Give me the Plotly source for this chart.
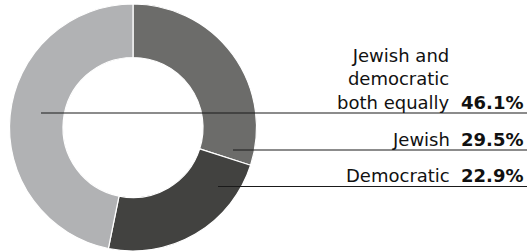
import plotly.graph_objects as go

# Data
labels = ["Jewish", "Democratic", "Jewish and democratic both equally"]
values = [29.5, 22.9, 46.1]
display_labels = ["Jewish", "Democratic", "Jewish and<br>democratic<br>both equally"]
colors = ["#6c6c6a", "#424240", "#b1b2b4"]

W, H = 527, 251
cx, cy, R = 133, 127.5, 123.5

fig = go.Figure(go.Pie(
    labels=labels, values=values, sort=False, direction="clockwise", rotation=0,
    hole=0.567, textinfo="none", hoverinfo="label+value",
    marker=dict(colors=colors, line=dict(color="white", width=1.2)),
    domain=dict(x=[(cx - R) / W, (cx + R) / W],
                y=[max(0.0, 1 - (cy + R) / H), min(1.0, 1 - (cy - R) / H)]),
    showlegend=False,
))

# leader lines (pixel positions) and label text
line_y = [150, 186.5, 113]
line_x0 = [233, 218, 41]
font = dict(family="DejaVu Sans", size=18, color="#111")
for lab, val, ly, lx in zip(display_labels, values, line_y, line_x0):
    fig.add_shape(type="line", xref="paper", yref="paper",
                  x0=lx / W, x1=1.0, y0=1 - ly / H, y1=1 - ly / H,
                  line=dict(color="#1a1a1a", width=1.2))
    fig.add_annotation(xref="paper", yref="paper", x=451 / W, y=1 - (ly + 0.5) / H,
                       xanchor="right", yanchor="bottom", align="right", showarrow=False,
                       borderpad=0, text=lab, font=font)
    fig.add_annotation(xref="paper", yref="paper", x=524 / W, y=1 - (ly + 0.5) / H,
                       xanchor="right", yanchor="bottom", align="right", showarrow=False,
                       borderpad=0, text=f"<b>{val:.1f}%</b>", font=font)

fig.update_layout(width=W, height=H, margin=dict(l=0, r=0, t=0, b=0),
                  paper_bgcolor="white", plot_bgcolor="white")
fig.write_html("out.html", config={"displayModeBar": False},
               post_script="document.body.style.margin='0';document.body.style.overflow='hidden';")
